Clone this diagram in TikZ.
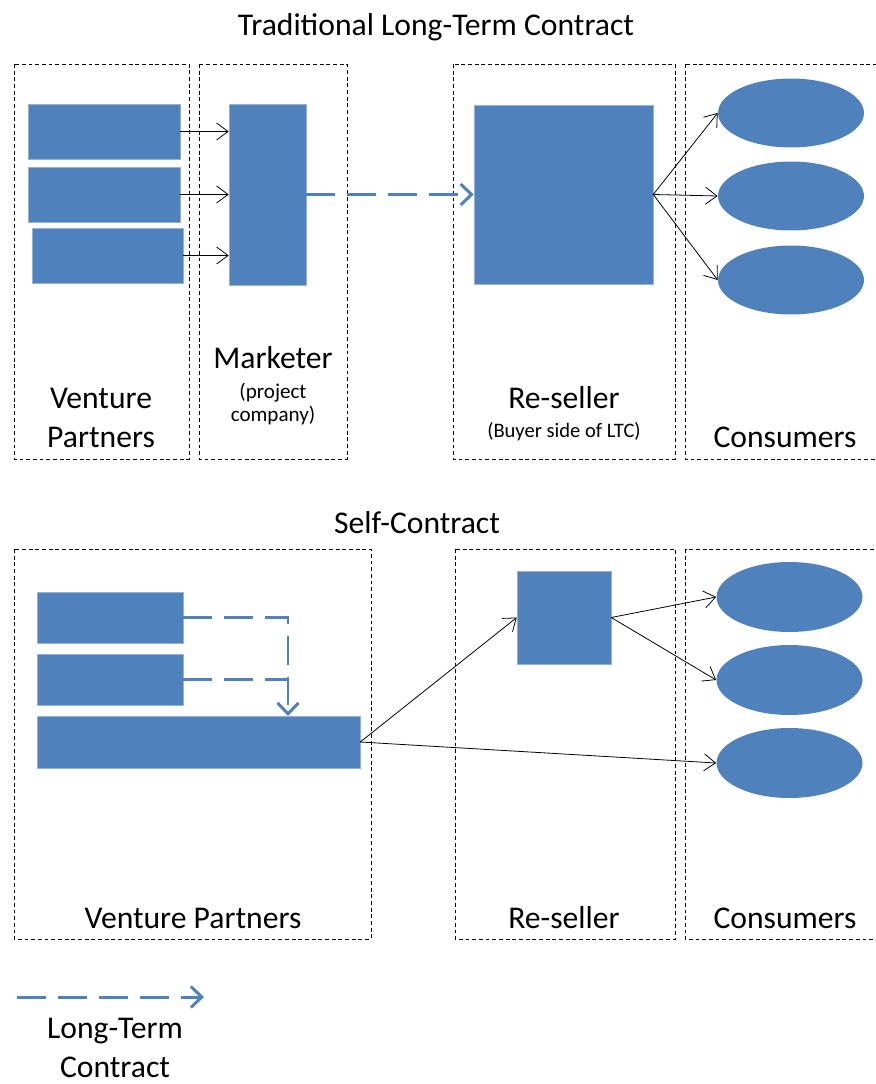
\documentclass[tikz,border=0pt]{standalone}
\usepackage{fontspec}
\setmainfont{Carlito}
\usetikzlibrary{shapes.geometric,arrows.meta,positioning}
\definecolor{boxblue}{HTML}{4F81BD}

\begin{document}
\begin{tikzpicture}[
  x=0.02cm, y=-0.02cm,
  block/.style={rectangle, fill=boxblue, draw=boxblue!60!white, line width=0.3pt, inner sep=0pt},
  consumer/.style={ellipse, fill=boxblue, inner sep=0pt, minimum width=2.92cm, minimum height=1.38cm},
  frame/.style={draw, dashed, dash pattern=on 2.2pt off 1.6pt, line width=0.5pt},
  label/.style={font=\fontsize{18}{22}\selectfont, align=center, inner sep=1pt},
  small/.style={font=\fontsize{12}{13.6}\selectfont, align=center, inner sep=1pt},
  flow/.style={-{Straight Barb[length=2.3mm, width=3.4mm]}, line width=0.45pt},
  ltc/.style={-{Straight Barb[length=2.2mm, width=4.2mm, line width=1.7pt]}, boxblue, line width=1.7pt, dash pattern=on 16.5pt off 6.8pt}
]
  \useasboundingbox (0,0) rectangle (875,1084);

  % traditional long-term contract
  \node (title1) [label] at (436,27) {Traditional Long-Term Contract};
  \draw [frame] (14,64) rectangle (189,459);
  \draw [frame] (199,64) rectangle (347,459);
  \draw [frame] (453,64) rectangle (675,459);
  \draw [frame] (685,64) rectangle (880,459);

  \node (vp1) [block, minimum width=3.04cm, minimum height=1.1cm] at (104,131.5) {};
  \node (vp2) [block, minimum width=3.04cm, minimum height=1.1cm] at (104,194.5) {};
  \node (vp3) [block, minimum width=3.02cm, minimum height=1.1cm] at (107.5,255.5) {};
  \node (mkt) [block, minimum width=1.54cm, minimum height=3.62cm] at (267.5,194.5) {};
  \node (res) [block, minimum width=3.58cm, minimum height=3.58cm] at (563.5,194.5) {};
  \node (con1) [consumer] at (791,113) {};
  \node (con2) [consumer] at (791,196) {};
  \node (con3) [consumer] at (791,280) {};

  \draw [flow] (vp1.east) -- (vp1.east -| mkt.west);
  \draw [flow] (vp2.east) -- (vp2.east -| mkt.west);
  \draw [flow] (vp3.east) -- (vp3.east -| mkt.west);
  \draw [ltc] (mkt.east) -- (res.west);
  \draw [flow] (res.east) -- (con1.west);
  \draw [flow] (res.east) -- (con2.west);
  \draw [flow] (res.east) -- (con3.west);

  \node (vplabel) [label] at (101,418) {Venture\\Partners};
  \node (mktlabel) [label] at (273,358) {Marketer};
  \node (mktnote) [small] at (273,404) {(project\\company)};
  \node (reslabel) [label] at (564,398) {Re-seller};
  \node (resnote) [small, font=\fontsize{11.7}{13}\selectfont] at (564,432) {(Buyer side of LTC)};
  \node (conlabel) [label] at (785,437) {Consumers};

  % self-contract
  \node (title2) [label] at (417,523) {Self-Contract};
  \draw [frame] (14,549) rectangle (371,939);
  \draw [frame] (455,549) rectangle (675,939);
  \draw [frame] (685,549) rectangle (880,939);

  \node (sa) [block, minimum width=2.92cm, minimum height=1.02cm] at (110,617.5) {};
  \node (sb) [block, minimum width=2.92cm, minimum height=1.02cm] at (110,679.5) {};
  \node (sc) [block, minimum width=6.46cm, minimum height=1.04cm] at (198.5,742) {};
  \node (sres) [block, minimum width=1.88cm, minimum height=1.86cm] at (564,617.5) {};
  \node (scon1) [consumer, minimum height=1.4cm] at (789.5,597) {};
  \node (scon2) [consumer, minimum height=1.4cm] at (789.5,680) {};
  \node (scon3) [consumer, minimum height=1.4cm] at (789.5,763) {};

  \coordinate (join) at (288,716);
  \draw [ltc] (sa.east) -| (join);
  \draw [ltc, -] (sb.east) -- (sb.east -| join);
  \draw [flow] (sc.east) -- (sres.west);
  \draw [flow] (sres.east) -- (scon1.west);
  \draw [flow] (sres.east) -- (scon2.west);
  \draw [flow] (sc.east) -- (scon3.west);

  \node (svplabel) [label] at (193,918) {Venture Partners};
  \node (sreslabel) [label] at (564,918) {Re-seller};
  \node (sconlabel) [label] at (785,918) {Consumers};

  % legend
  \coordinate (legstart) at (17,997);
  \coordinate (legend) at (204,997);
  \draw [ltc] (legstart) -- (legend);
  \node (leglabel) [label] at (115,1048) {Long-Term\\Contract};
\end{tikzpicture}
\end{document}
